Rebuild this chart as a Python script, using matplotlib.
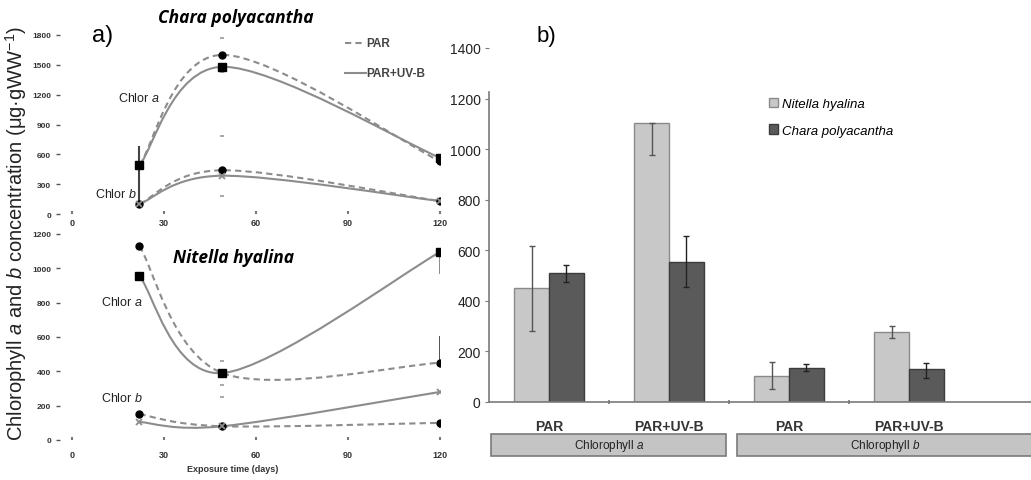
import matplotlib
matplotlib.use('Agg')
import matplotlib.pyplot as plt
import matplotlib.transforms as mtransforms
from matplotlib.path import Path
from matplotlib.patches import PathPatch, Rectangle, Patch
from matplotlib.lines import Line2D

plt.rcParams['font.family'] = 'Liberation Sans'
plt.rcParams['mathtext.fontset'] = 'custom'
plt.rcParams['mathtext.rm'] = 'Liberation Sans'
plt.rcParams['mathtext.it'] = 'Liberation Sans:italic'
plt.rcParams['mathtext.bf'] = 'Liberation Sans:bold'

# ---- panel a) time course (exposure days) ----
days = [22, 49, 120]
chara_a_par = [490, 1600, 530]
chara_a_uvb = [490, 1480, 565]
chara_b_par = [100, 440, 130]
chara_b_uvb = [100, 385, 130]
nitella_a_par = [1130, 390, 450]
nitella_a_uvb = [955, 390, 1095]
nitella_b_par = [150, 80, 100]
nitella_b_uvb = [105, 80, 280]

# ---- panel b) bars ----
treatments = ['PAR', 'PAR+UV-B', 'PAR', 'PAR+UV-B']
nitella_bar = [452, 1105, 103, 276]
nitella_lo = [170, 130, 50, 24]
nitella_hi = [165, 0, 55, 24]
chara_bar = [509, 553, 136, 129]
chara_lo = [35, 100, 13, 35]
chara_hi = [33, 105, 13, 24]

W, H = 1031, 481
line_grey = '#8c8c8c'


def fx(px):
    return px / W


def fy(py):
    return 1 - py / H


def smooth_path(x, y):
    """Excel-like smoothed line through the points (cubic bezier)."""
    pts = list(zip(x, y))
    n = len(pts)
    verts = [pts[0]]
    codes = [Path.MOVETO]
    for i in range(n - 1):
        p0 = pts[i - 1] if i > 0 else pts[i]
        p1 = pts[i]
        p2 = pts[i + 1]
        p3 = pts[i + 2] if i + 2 < n else pts[i + 1]
        c1 = (p1[0] + (p2[0] - p0[0]) / 6, p1[1] + (p2[1] - p0[1]) / 6)
        c2 = (p2[0] - (p3[0] - p1[0]) / 6, p2[1] - (p3[1] - p1[1]) / 6)
        verts += [c1, c2, p2]
        codes += [Path.CURVE4] * 3
    return Path(verts, codes)


def draw_series(ax, y, ls, marker, ms, mcolor, mew=1.0):
    ax.add_patch(PathPatch(smooth_path(days, y), fill=False, edgecolor=line_grey,
                           lw=1.5, linestyle=ls, zorder=2))
    ax.plot(days, y, linestyle='none', marker=marker, ms=ms, color=mcolor,
            mew=mew, zorder=3)


def caps_only(ax, x, y, err):
    eb = ax.errorbar([x], [y], yerr=err, fmt='none', ecolor='#9a9a9a',
                     capsize=1.5, capthick=1.2)
    for c in eb[2]:
        c.set_visible(False)


def style_time_axis(ax, ymax, ystep, xpad):
    ax.set_xlim(0, 120)
    ax.set_ylim(0, ymax)
    for s in ax.spines.values():
        s.set_visible(False)
    ax.spines['left'].set_position(('outward', 9))
    ax.set_xticks(range(0, 121, 30))
    ax.set_yticks(range(0, ymax + 1, ystep))
    ax.tick_params(axis='y', length=3, width=1, color='#555555', pad=3,
                   labelsize=6)
    ax.tick_params(axis='x', direction='in', length=2, width=1.5,
                   color='#777777', pad=xpad, labelsize=6.5)
    for lab in ax.get_xticklabels() + ax.get_yticklabels():
        lab.set_fontweight('bold')
        lab.set_color('#333333')
    ax.patch.set_alpha(0)


fig = plt.figure(figsize=(W / 100, H / 100), dpi=100)

# --- top: Chara polyacantha ---
ax1 = fig.add_axes([fx(72), fy(215), fx(368), 179 / H])
style_time_axis(ax1, 1800, 300, 3)
draw_series(ax1, chara_b_par, (0, (3, 2)), 'o', 5, 'black')
draw_series(ax1, chara_b_uvb, '-', 'x', 5, '#8c8c8c', 1.3)
draw_series(ax1, chara_a_par, (0, (3, 2)), 'o', 5, 'black')
draw_series(ax1, chara_a_uvb, '-', 's', 6, 'black')
ax1.errorbar([days[0]], [chara_a_uvb[0]], yerr=[[390], [190]], fmt='none',
             ecolor='#444444', elinewidth=1.5, capsize=0, zorder=1)
ax1.errorbar([days[0]], [chara_b_par[0]], yerr=[[40], [0]], fmt='none',
             ecolor='#444444', elinewidth=1.2, capsize=0, zorder=1)
caps_only(ax1, days[1], chara_a_par[1], 170)
caps_only(ax1, days[1], chara_b_par[1], [[260], [340]])

# --- bottom: Nitella hyalina ---
ax2 = fig.add_axes([fx(72), fy(441), fx(368), 206 / H])
style_time_axis(ax2, 1200, 200, 7)
draw_series(ax2, nitella_b_par, (0, (3, 2)), 'o', 5, 'black')
draw_series(ax2, nitella_b_uvb, '-', 'x', 5, '#8c8c8c', 1.3)
draw_series(ax2, nitella_a_par, (0, (3, 2)), 'o', 5, 'black')
draw_series(ax2, nitella_a_uvb, '-', 's', 6, 'black')
ax2.errorbar([days[2]], [nitella_a_uvb[2]], yerr=[[128], [0]], fmt='none',
             ecolor='#777777', elinewidth=1.2, capsize=0, zorder=1)
ax2.errorbar([days[2]], [nitella_a_par[2]], yerr=[[0], [156]], fmt='none',
             ecolor='#333333', elinewidth=1.2, capsize=0, zorder=1)
ax2.errorbar([days[2]], [nitella_b_par[2]], yerr=[[30], [0]], fmt='none',
             ecolor='#333333', elinewidth=1.2, capsize=0, zorder=1)
caps_only(ax2, days[1], nitella_a_par[1], 70)
caps_only(ax2, days[1], nitella_b_par[1], 170)

# panel a texts
fig.text(fx(236), fy(18), 'Chara polyacantha', ha='center', va='center',
         fontsize=12.5, fontweight='bold', fontstyle='italic', family='Open Sans')
fig.text(fx(234), fy(258), 'Nitella hyalina', ha='center', va='center',
         fontsize=12.5, fontweight='bold', fontstyle='italic', family='Open Sans')
fig.text(fx(92), fy(36), 'a)', ha='left', va='center', fontsize=17)
fig.text(fx(118), fy(99), 'Chlor $a$', ha='left', va='center', fontsize=9, color='#222222')
fig.text(fx(95), fy(194), 'Chlor $b$', ha='left', va='center', fontsize=9, color='#222222')
fig.text(fx(101), fy(303), 'Chlor $a$', ha='left', va='center', fontsize=9, color='#222222')
fig.text(fx(101), fy(398), 'Chlor $b$', ha='left', va='center', fontsize=9, color='#222222')
fig.text(fx(233), fy(470), 'Exposure time (days)', ha='center', va='center',
         fontsize=6.5, fontweight='bold', color='#333333')
fig.text(fx(16), fy(234), r'Chlorophyll $a$ and $b$ concentration (μg·gWW$^{-1}$)',
         rotation=90, ha='center', va='center', fontsize=14.5, color='#222222')

# legend of panel a
fig.add_artist(Line2D([fx(345), fx(366)], [fy(44), fy(44)], color=line_grey,
                      lw=1.5, linestyle=(0, (3, 2))))
fig.add_artist(Line2D([fx(345), fx(366)], [fy(74), fy(74)], color=line_grey, lw=1.5))
fig.text(fx(366), fy(44), 'PAR', ha='left', va='center', fontsize=8.5,
         fontweight='bold', color='#444444')
fig.text(fx(366), fy(74), 'PAR+UV-B', ha='left', va='center', fontsize=8.5,
         fontweight='bold', color='#444444')

# --- panel b) bars ---
ax3 = fig.add_axes([fx(489), fy(403), fx(W - 489), 354 / H])
pos = list(range(len(treatments)))
bw = 0.29
ax3.bar([p - bw / 2 for p in pos], nitella_bar, width=bw, color='#c8c8c8',
        edgecolor='#8a8a8a', lw=1, label='Nitella hyalina')
ax3.bar([p + bw / 2 for p in pos], chara_bar, width=bw, color='#5a5a5a',
        edgecolor='#3c3c3c', lw=1, label='Chara polyacantha')
ax3.errorbar([p - bw / 2 for p in pos], nitella_bar, yerr=[nitella_lo, nitella_hi],
             fmt='none', ecolor='#555555', elinewidth=1, capsize=2.5, capthick=1)
ax3.errorbar([p + bw / 2 for p in pos], chara_bar, yerr=[chara_lo, chara_hi],
             fmt='none', ecolor='#222222', elinewidth=1, capsize=2.5, capthick=1)

ax3.set_xlim(-0.5, -0.5 + (W - 489) / 120)
ax3.set_ylim(0, 1400)
ax3.set_yticks(range(0, 1401, 200))
ax3.spines['top'].set_visible(False)
ax3.spines['right'].set_visible(False)
ax3.spines['left'].set_bounds(0, 1225)
ax3.spines['left'].set_color('#7a7a7a')
ax3.spines['bottom'].set_color('#7a7a7a')
ax3.spines['left'].set_linewidth(1.2)
ax3.spines['bottom'].set_linewidth(1.2)
ax3.tick_params(axis='y', length=3, color='#7a7a7a', labelsize=10,
                labelcolor='#222222', pad=3)
ax3.set_xticks(pos)
ax3.set_xticklabels(treatments, fontsize=10, fontweight='bold', color='#333333')
ax3.tick_params(axis='x', length=0, pad=12)
ax3.set_xticks([0.5, 1.5, 2.5], minor=True)
ax3.tick_params(axis='x', which='minor', length=3, direction='inout',
                color='#7a7a7a', width=1.2)
ax3.patch.set_alpha(0)

# chlorophyll group boxes below the categories
trans = mtransforms.blended_transform_factory(ax3.transData, fig.transFigure)
box_a = (-0.483, 1.475)
box_b = (1.567, 4.2)
for x0, x1 in [box_a, box_b]:
    ax3.add_patch(Rectangle((x0, fy(457)), x1 - x0, fy(435) - fy(457), transform=trans,
                            facecolor='#c4c4c4', edgecolor='#7a7a7a', lw=1.2,
                            clip_on=False))
fig.text(fx(609), fy(446), 'Chlorophyll $a$', ha='center', va='center',
         fontsize=8.5, color='#222222')
fig.text(fx(885), fy(446), 'Chlorophyll $b$', ha='center', va='center',
         fontsize=8.5, color='#222222')

fig.text(fx(537), fy(37), 'b)', ha='left', va='center', fontsize=16)

handles = [Patch(facecolor='#c8c8c8', edgecolor='#8a8a8a'),
           Patch(facecolor='#5a5a5a', edgecolor='#3c3c3c')]
ax3.legend(handles, ['Nitella hyalina', 'Chara polyacantha'],
           loc='upper left', bbox_to_anchor=(fx(762), fy(92)),
           bbox_transform=fig.transFigure, frameon=False,
           handlelength=0.7, handleheight=0.7, handletextpad=0.3,
           labelspacing=1.1, borderpad=0,
           prop={'style': 'italic', 'size': 9.5})

fig.savefig('out.png', dpi=100)
